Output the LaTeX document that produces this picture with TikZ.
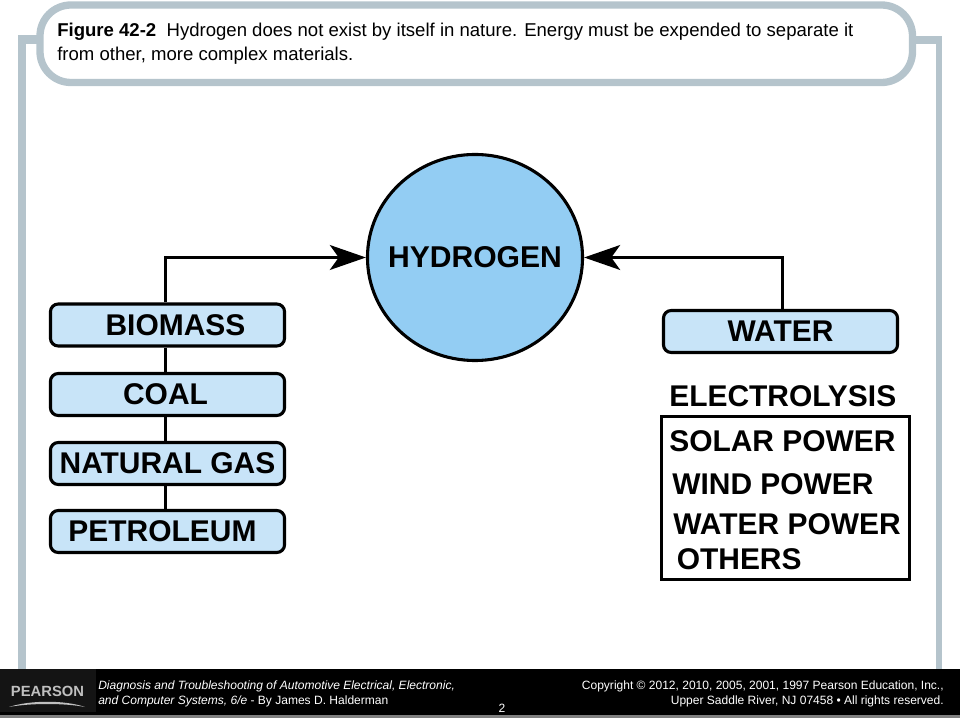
\documentclass[tikz,border=0pt]{standalone}
\usepackage{fontspec}
\setmainfont{Liberation Sans}
\usetikzlibrary{arrows.meta, positioning, shapes.geometric}
\definecolor{framegray}{HTML}{B5C4CC}
\definecolor{sunblue}{HTML}{93CDF3}
\definecolor{paleblue}{HTML}{C8E4F8}
\definecolor{footgray}{HTML}{C0C0C0}
\tikzset{
    source/.style ={rectangle, rounded corners=5.5pt, draw=black, line width=2.2pt, fill=paleblue,
                    minimum width=5.85cm, minimum height=1.05cm, inner sep=0pt,
                    font=\fontsize{21.3}{21.3}\selectfont\bfseries},
    label/.style = {inner sep=0pt, anchor=west, font=\fontsize{21.3}{21.3}\selectfont\bfseries},
    wire/.style = {line width=2.2pt, line cap=butt},
    feed/.style = {wire, -{Stealth[length=0.9cm, width=0.62cm, inset=0.22cm]}},
    foot/.style = {inner sep=0pt, text=white, font=\fontsize{8.55}{10.8}\selectfont}
    }
\begin{document}
\begin{tikzpicture}[x=0.025cm, y=-0.025cm]
    \useasboundingbox (0,0) rectangle (960,720);

    % frame and caption bubble
    \fill[framegray] (18,35) rectangle (40,44);
    \fill[framegray] (18,35) rectangle (26,670);
    \fill[framegray] (900,36) rectangle (942,44);
    \fill[framegray] (936,36) rectangle (942,670);
    \draw[framegray, line width=5.2pt, fill=white, rounded corners=22pt] (40,5) rectangle (912.5,82.5);
    \node[inner sep=0pt, anchor=north west, align=left, font=\fontsize{13.2}{17}\selectfont] (caption) at (57,23)
        {\textbf{Figure 42-2}\ \ Hydrogen does not exist by itself in nature. Energy must be expended to separate it\\
         from other, more complex materials.};

    % hydrogen and sources
    \node[ellipse, draw=black, line width=2.2pt, fill=sunblue, minimum width=5.375cm, minimum height=5.15cm, inner sep=0pt,
          font=\fontsize{21.4}{21.4}\selectfont\bfseries] (hydrogen) at (475,257.5) {\makebox[0pt]{HYDROGEN}};
    \node[source] (biomass) at (167.5,325) {\hspace*{0.4cm}BIOMASS};
    \node[source] (coal) at (167.5,394.5) {COAL\hspace*{0.1cm}};
    \node[source] (gas) at (167.5,463.5) {NATURAL GAS};
    \node[source] (petroleum) at (167.5,531.5) {PETROLEUM\hspace*{0.25cm}};
    \node[source] (water) at (780.5,331.5) {WATER};

    \draw[wire] ([xshift=-0.05cm]biomass.south) -- ([xshift=-0.05cm]coal.north);
    \draw[wire] ([xshift=-0.05cm]coal.south) -- ([xshift=-0.05cm]gas.north);
    \draw[wire] ([xshift=-0.05cm]gas.south) -- ([xshift=-0.05cm]petroleum.north);
    \draw[feed] ([xshift=-0.06cm]biomass.north) |- (hydrogen.west);
    \draw[feed] ([xshift=0.06cm]water.north) |- (hydrogen.east);

    % electrolysis list
    \node[label] (electrolysis) at (669,396) {ELECTROLYSIS};
    \node[rectangle, draw=black, line width=2.2pt, minimum width=6.2cm, minimum height=4.06cm, inner sep=0pt] (powers) at (785.5,498) {};
    \node[label] (solar) at (669,441) {SOLAR POWER};
    \node[label] (wind) at (672,484) {WIND POWER};
    \node[label] (waterpower) at (673,524) {WATER POWER};
    \node[label] (others) at (676.5,559) {OTHERS};

    % footer
    \fill[black!50] (0,714) rectangle (960,718);
    \fill[black] (0,669) rectangle (960,715);
    \fill[black!92] (0,669) rectangle (96,712);
    \node[inner sep=0pt, text=footgray, font=\fontsize{10.5}{10.5}\selectfont\bfseries] (pearson) at (47.5,691) {PEARSON};
    \fill[footgray] (9,707) .. controls (30,700) and (65,700) .. (85,707) .. controls (65,703) and (30,703) .. cycle;
    \node[foot, anchor=west, align=left] (book) at (98,694)
        {\textit{Diagnosis and Troubleshooting of Automotive Electrical, Electronic,}\\
         \textit{and Computer Systems, 6/e} - By James D. Halderman};
    \node[foot, anchor=east, align=right] (copyright) at (944,694)
        {Copyright © 2012, 2010, 2005, 2001, 1997 Pearson Education, Inc.,\\
         Upper Saddle River, NJ 07458 • All rights reserved.};
    \node[foot] (pagenum) at (502,708.5) {2};
\end{tikzpicture}
\end{document}
